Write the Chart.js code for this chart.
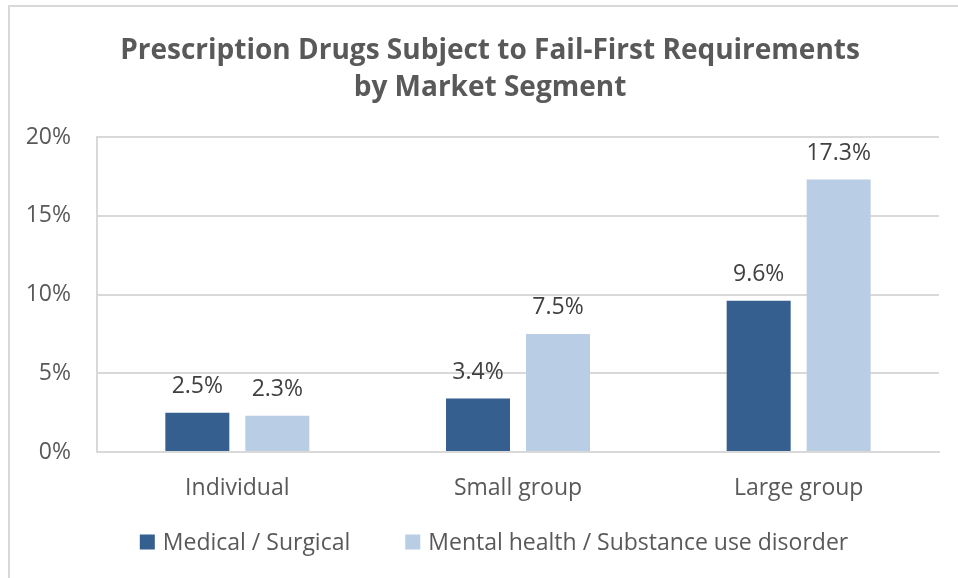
<!DOCTYPE html>
<html>
<head>
<meta charset="utf-8">
<script src="https://cdn.jsdelivr.net/npm/chart.js@4/dist/chart.umd.min.js"></script>
<style>
  html, body { margin: 0; padding: 0; background: #fff; }
  #wrap { position: relative; width: 958px; height: 578px; overflow: hidden; }
  #frame { position: absolute; left: 8px; top: 5px; width: 1000px; height: 700px; border: 2px solid #d9d9d9; box-sizing: border-box; }
  canvas { position: absolute; left: 0; top: 0; }
</style>
</head>
<body>
<div id="wrap">
  <div id="frame"></div>
  <canvas id="chart" width="958" height="578"></canvas>
</div>
<script>
const titleLines = ['Prescription Drugs Subject to Fail-First Requirements', 'by Market Segment'];
const segments = ['Individual', 'Small group', 'Large group'];
const seriesNames = ['Medical / Surgical', 'Mental health / Substance use disorder'];
const medicalSurgical = [2.5, 3.4, 9.6];
const mentalHealth = [2.3, 7.5, 17.3];
const yTicks = [0, 5, 10, 15, 20];
const seriesColors = ['#355f8f', '#b9cde5'];

const FONT = '"Open Sans", "Noto Sans", sans-serif';

/* ── value labels above bars ── */
const barLabels = {
  id: 'barLabels',
  afterDatasetsDraw(chart){
    const ctx = chart.ctx;
    ctx.save();
    ctx.font = '23px ' + FONT;
    ctx.fillStyle = '#404040';
    ctx.textAlign = 'center';
    ctx.textBaseline = 'middle';
    chart.data.datasets.forEach((ds, i) => {
      chart.getDatasetMeta(i).data.forEach((bar, j) => {
        ctx.fillText(ds.data[j].toFixed(1) + '%', bar.x, bar.y - 26);
      });
    });
    ctx.restore();
  }
};

/* ── title + legend (placed like the original) ── */
const frameText = {
  id: 'frameText',
  afterDraw(chart){
    const ctx = chart.ctx;
    const cx = 490;
    ctx.save();
    ctx.fillStyle = '#595959';
    ctx.textAlign = 'center';
    ctx.textBaseline = 'middle';
    ctx.font = 'bold 28px ' + FONT;
    titleLines.forEach((t, i) => ctx.fillText(t, cx, 51 + i * 37));

    ctx.font = '23px ' + FONT;
    ctx.textAlign = 'left';
    const box = 15, gapText = 8, gapItem = 55;
    const widths = seriesNames.map(n => ctx.measureText(n).width);
    const total = widths.reduce((s, w) => s + box + gapText + w, 0) + gapItem * (seriesNames.length - 1);
    let x = 494 - total / 2;
    const y = 543;
    seriesNames.forEach((n, i) => {
      ctx.fillStyle = seriesColors[i];
      ctx.fillRect(x, y - box / 2 - 1, box, box);
      ctx.fillStyle = '#595959';
      ctx.fillText(n, x + box + gapText, y);
      x += box + gapText + widths[i] + gapItem;
    });
    ctx.restore();
  }
};

new Chart(document.getElementById('chart'), {
  type: 'bar',
  data: {
    labels: segments,
    datasets: [
      { label: seriesNames[0], data: medicalSurgical, backgroundColor: seriesColors[0], borderWidth: 0 },
      { label: seriesNames[1], data: mentalHealth, backgroundColor: seriesColors[1], borderWidth: 0 }
    ]
  },
  options: {
    responsive: false,
    animation: false,
    layout: { padding: { left: 0, right: 19, top: 137, bottom: 71 } },
    datasets: { bar: { categoryPercentage: 0.57, barPercentage: 0.8 } },
    plugins: {
      title: { display: false },
      legend: { display: false },
      tooltip: { enabled: false }
    },
    scales: {
      x: {
        grid: { display: false, drawTicks: false },
        border: { color: '#d9d9d9', width: 2 },
        ticks: { color: '#595959', font: { family: FONT, size: 23 }, padding: 23 },
        afterFit: axis => { axis.height = 55; }
      },
      y: {
        min: 0, max: 20,
        afterBuildTicks: axis => { axis.ticks = yTicks.map(v => ({ value: v })); },
        grid: { color: '#d9d9d9', lineWidth: 2, drawTicks: false },
        border: { color: '#d9d9d9', width: 2 },
        ticks: { color: '#595959', font: { family: FONT, size: 23 }, padding: 26, callback: v => v + '%' },
        afterFit: axis => { axis.width = 97; }
      }
    }
  },
  plugins: [barLabels, frameText]
});
</script>
</body>
</html>
